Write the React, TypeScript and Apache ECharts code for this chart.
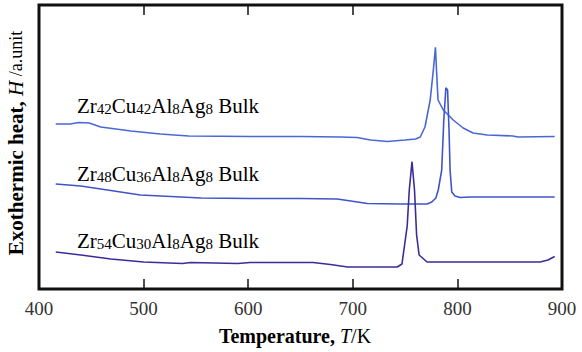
import React, { useEffect, useRef } from "react";
import * as echarts from "echarts";

// Temperature (K) and exothermic heat (a.u.)
const tempA = [416, 430, 438, 448, 459, 488, 516, 543, 602, 650, 688, 704, 717, 733, 750, 760, 764.5, 769, 774, 777, 779, 780.5, 781.5, 786.5, 796, 805.5, 815, 828.5, 853, 858, 893];
const heatA = [165, 165, 166.5, 166, 162, 158, 155, 153, 152.5, 152.5, 152, 151.5, 149, 147.5, 149, 150, 152, 162, 189, 219, 241.7, 209, 189, 179, 169, 161, 156, 154, 153, 152, 152.5];

const tempB = [416, 440, 459, 497, 526, 555, 602, 650, 685, 698, 714, 745, 771, 775.5, 779.4, 781.7, 785, 787, 789, 790.6, 792, 793, 794.6, 797.7, 802.7, 812, 893];
const heatB = [105, 103, 100, 94, 92.5, 91, 90.5, 90.5, 90, 88, 85.5, 85, 85, 87, 91, 99, 119, 169, 201.3, 199, 159, 119, 97, 93, 91.5, 92, 92];

const tempC = [416, 440, 468.7, 500, 537, 545, 590, 602, 662, 678.6, 695, 742.5, 747, 752, 754, 756.6, 759, 761, 763.4, 771, 841, 879, 886.6, 893];
const heatC = [37, 34, 30, 27, 25.5, 26.5, 25.5, 26.5, 26.5, 24.5, 22, 22, 25, 63, 99, 127.3, 99, 54, 34, 27, 27, 27, 29, 32.5];

const xTicks = [400, 500, 600, 700, 800, 900];
const seriesNames = ["Zr42Cu42Al8Ag8 Bulk", "Zr48Cu36Al8Ag8 Bulk", "Zr54Cu30Al8Ag8 Bulk"];
const seriesColors = ["#4a68d4", "#3f54c8", "#3a2d9a"];

const zip = (xs: number[], ys: number[]) => xs.map((x, i) => [x, ys[i]]);

const richName = (name: string) => {
  const parts = name.match(/\d+|[^\d]+/g) || [];
  return parts.map((p) => (/^\d+$/.test(p) ? `{s|${p}}` : `{a|${p}}`)).join("");
};

export default function App() {
  const ref = useRef<HTMLDivElement>(null);
  useEffect(() => {
    if (!ref.current) return;
    const chart = echarts.init(ref.current, undefined, { renderer: "svg" });
    const font = "Liberation Serif";
    const textColor = "#2b2b2b";
    const labelRich = {
      a: { fontFamily: font, fontSize: 21, color: textColor, lineHeight: 22, verticalAlign: "bottom" },
      s: { fontFamily: font, fontSize: 15, color: textColor, lineHeight: 15, verticalAlign: "bottom" },
    };
    const labelY = [105, 173, 240];
    chart.setOption({
      animation: false,
      backgroundColor: "#fff",
      grid: {
        left: 39,
        right: 20,
        top: 5,
        bottom: 63,
        show: true,
        borderColor: "#111",
        borderWidth: 3,
      },
      xAxis: [
        {
          type: "value",
          min: 400,
          max: 900,
          interval: 100,
          axisLine: { show: false },
          splitLine: { show: false },
          axisTick: { show: true, inside: true, length: 10, lineStyle: { color: "#111", width: 1.5 } },
          axisLabel: {
            margin: 10,
            fontFamily: font,
            fontSize: 19,
            color: "#333",
            formatter: (v: number) => (xTicks.includes(v) ? String(v) : ""),
          },
        },
        {
          type: "value",
          position: "top",
          min: 400,
          max: 900,
          interval: 100,
          axisLine: { show: false },
          splitLine: { show: false },
          axisTick: { show: true, inside: true, length: 10, lineStyle: { color: "#111", width: 1.5 } },
          axisLabel: { show: false },
        },
      ],
      yAxis: {
        type: "value",
        min: 0,
        max: 284,
        axisLine: { show: false },
        axisTick: { show: false },
        axisLabel: { show: false },
        splitLine: { show: false },
      },
      series: [
        { name: seriesNames[0], data: zip(tempA, heatA), color: seriesColors[0] },
        { name: seriesNames[1], data: zip(tempB, heatB), color: seriesColors[1] },
        { name: seriesNames[2], data: zip(tempC, heatC), color: seriesColors[2] },
      ].map((s) => ({
        ...s,
        type: "line",
        showSymbol: false,
        symbol: "none",
        lineStyle: { width: 1.6, color: s.color },
        z: 2,
      })),
      graphic: [
        ...seriesNames.map((n, i) => ({
          type: "text",
          x: 77,
          y: labelY[i],
          style: {
            text: richName(n),
            rich: labelRich,
            align: "left",
            verticalAlign: "middle",
          },
        })),
        {
          type: "text",
          x: 16,
          y: 143,
          rotation: Math.PI / 2,
          style: {
            text: "{b|Exothermic heat, }{i|H}{n| /a.unit}",
            align: "center",
            verticalAlign: "middle",
            rich: {
              b: { fontFamily: font, fontSize: 21, fontWeight: "bold", color: textColor },
              i: { fontFamily: font, fontSize: 21, fontStyle: "italic", color: textColor },
              n: { fontFamily: font, fontSize: 18, color: textColor },
            },
          },
        },
        {
          type: "text",
          x: 295,
          y: 336,
          style: {
            text: "{b|Temperature, }{i|T}{n|/K}",
            align: "center",
            verticalAlign: "middle",
            rich: {
              b: { fontFamily: font, fontSize: 20, fontWeight: "bold", color: textColor },
              i: { fontFamily: font, fontSize: 20, fontStyle: "italic", color: textColor },
              n: { fontFamily: font, fontSize: 20, color: textColor },
            },
          },
        },
      ],
    });
    return () => chart.dispose();
  }, []);
  return <div ref={ref} style={{ width: 582, height: 352, position: "absolute", left: 0, top: 0 }} />;
}
